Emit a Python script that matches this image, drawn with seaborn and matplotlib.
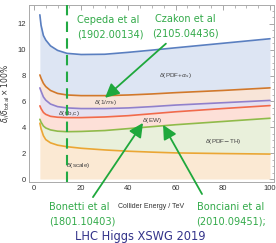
import matplotlib
matplotlib.use("Agg")
import matplotlib.pyplot as plt
import seaborn as sns
import numpy as np
import pandas as pd
from matplotlib import font_manager as fm

# ---- data (cumulative uncertainty bands, % of total) ----
energy = [2.5, 3, 4, 5, 7, 10, 14, 20, 30, 40, 50, 60, 80, 100]
top_pdf_as = [12.7, 11.9, 11.1, 10.75, 10.3, 9.95, 9.72, 9.63, 9.65, 9.8, 9.97, 10.15, 10.5, 10.85]
top_1mt = [8.05, 7.8, 7.4, 7.15, 6.85, 6.62, 6.5, 6.45, 6.45, 6.5, 6.58, 6.68, 6.85, 7.05]
top_tbc = [7.05, 6.8, 6.35, 6.1, 5.8, 5.6, 5.5, 5.45, 5.45, 5.5, 5.6, 5.72, 5.9, 6.08]
top_ew = [5.66, 5.45, 5.15, 5.0, 4.85, 4.78, 4.75, 4.75, 4.8, 4.9, 5.05, 5.2, 5.45, 5.68]
top_pdfth = [4.62, 4.4, 4.1, 3.95, 3.8, 3.7, 3.66, 3.68, 3.75, 3.9, 4.05, 4.2, 4.45, 4.7]
top_scale = [4.32, 3.9, 3.35, 3.05, 2.8, 2.62, 2.5, 2.38, 2.25, 2.15, 2.08, 2.02, 1.97, 1.93]

x_ticks = [0, 20, 40, 60, 80, 100]
y_ticks = [0, 2, 4, 6, 8, 10, 12]
lhc_energy = 14

sns.set_theme(style="white")
plt.rcParams['font.family'] = ['Liberation Sans', 'DejaVu Sans']

# condensed font if available
cond = fm.FontProperties(family="DejaVu Sans", stretch="condensed")
cond_file = fm.findfont(cond)
has_cond = "Condensed" in cond_file

fig = plt.figure(figsize=(2.76, 2.43), dpi=100)
ax = fig.add_axes([29/276, 1-182/243, 245/276, 177/243])

df = pd.DataFrame({"E": energy, "scale": top_scale, "pdfth": top_pdfth, "ew": top_ew,
                   "tbc": top_tbc, "mt": top_1mt, "pdfas": top_pdf_as})

bands = [
    ("scale", None, "#fbe9d3", "#eba634"),
    ("pdfth", "scale", "#e9f0db", "#8fbb4a"),
    ("ew", "pdfth", "#fde0d8", "#f26a4a"),
    ("tbc", "ew", "#e6e1f1", "#9080cc"),
    ("mt", "tbc", "#f8e5d8", "#d2782a"),
    ("pdfas", "mt", "#dde5f3", "#5a7fc0"),
]
for col, below, fc, lc in bands:
    lo = 0 if below is None else df[below]
    ax.fill_between(df["E"], lo, df[col], color=fc, lw=0, zorder=1)
for col, below, fc, lc in bands:
    sns.lineplot(data=df, x="E", y=col, ax=ax, color=lc, lw=1.2, zorder=3)

ax.set_xlim(-2.1, 101.7)
ax.set_ylim(-0.23, 13.46)
ax.set_xticks(x_ticks)
ax.set_yticks(y_ticks)
ax.set_xticks(np.arange(0, 101, 5), minor=True)
ax.set_yticks(np.arange(0, 13.5, 0.5), minor=True)
ax.tick_params(which="both", direction="in", top=True, right=True, colors="#999999",
               labelcolor="#333333", labelsize=5.5, pad=2)
ax.tick_params(which="major", length=3.5, width=0.6)
ax.tick_params(which="minor", length=1.8, width=0.5)
for s in ax.spines.values():
    s.set_color("#aaaaaa")
    s.set_linewidth(0.7)

ax.set_xlabel("Collider Energy / TeV", fontsize=5, color="#333333", labelpad=8)
ax.set_ylabel(r"$\delta_i/\delta_{\rm total}\times100\%$", fontsize=5.5, color="#333333", labelpad=4)

ax.axvline(lhc_energy, color="#22aa44", lw=1.5, ls=(0, (5, 3)), zorder=5, clip_on=False)

lab_kw = dict(fontsize=4.6, color="#444444", ha="center", va="center", zorder=6)
ax.text(60, 7.98, r"$\delta$(PDF+$\alpha_s$)", **lab_kw)
ax.text(30.5, 5.95, r"$\delta$(1/$m_t$)", **lab_kw)
ax.text(14.8, 5.04, r"$\delta$(t,b,c)", **lab_kw)
ax.text(50.2, 4.5, r"$\delta$(EW)", **lab_kw)
ax.text(80, 2.9, r"$\delta$(PDF$-$TH)", **lab_kw)
ax.text(19, 1.08, r"$\delta$(scale)", **lab_kw)

green = "#1fa83c"
arr = dict(arrowstyle="-|>,head_length=0.7,head_width=0.35", color=green, lw=1.3, shrinkA=0, shrinkB=0)
ax.annotate("", xy=(30.1, 6.28), xytext=(55.9, 10.47), arrowprops=arr, annotation_clip=False, zorder=7)
ax.annotate("", xy=(46.2, 4.34), xytext=(25.0, -1.4), arrowprops=arr, annotation_clip=False, zorder=7)
ax.annotate("", xy=(54.7, 4.19), xytext=(71.2, -1.16), arrowprops=arr, annotation_clip=False, zorder=7)

if has_cond:
    bigfont = dict(family="DejaVu Sans", stretch="condensed")
    bsize, tsize = 7.8, 9.2
else:
    bigfont = dict(family="Liberation Sans")
    bsize, tsize = 7.2, 8.6
tcol = "#33aa4a"
big = dict(fontsize=bsize, color=tcol, va="center", linespacing=1.6, **bigfont)
fig.text(77/276, 1-27/243, "Cepeda et al\n(1902.00134)", ha="left", **big)
fig.text(185/276, 1-26/243, "Czakon et al\n(2105.04436)", ha="center", **big)
fig.text(49/276, 1-214/243, "Bonetti et al\n(1801.10403)", ha="left", **big)
fig.text(231/276, 1-214/243, "Bonciani et al\n(2010.09451);", ha="center", **big)
fig.text(140/276, 1-236/243, "LHC Higgs XSWG 2019", ha="center", va="center",
         fontsize=tsize, color="#33338a", **bigfont)

fig.savefig("out.png", dpi=100)
